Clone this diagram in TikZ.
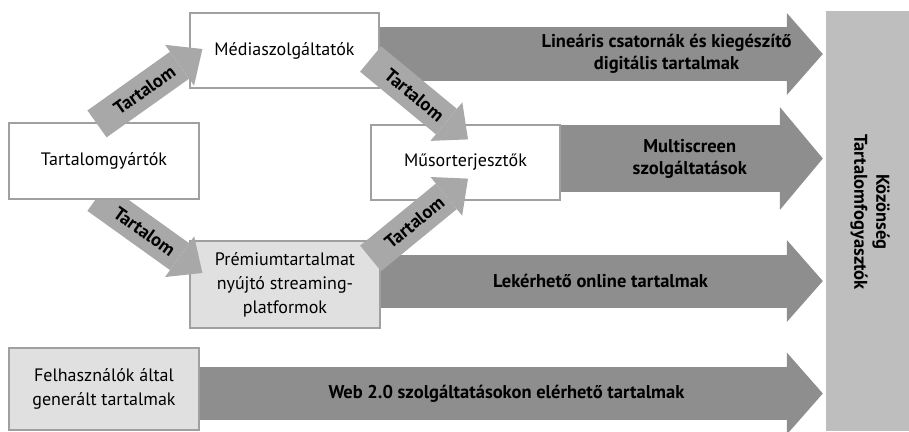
\documentclass[tikz,border=0pt]{standalone}
\usepackage{fontspec}
\setmainfont{PT Sans}
\usepackage{tikz}
\usetikzlibrary{arrows.meta,positioning,calc}
\usepackage{xcolor}
\definecolor{boxline}{RGB}{160,160,160}
\definecolor{boxfill}{RGB}{224,224,224}
\definecolor{flowgray}{RGB}{142,142,142}
\definecolor{feedgray}{RGB}{168,168,168}
\definecolor{audgray}{RGB}{190,190,190}

\begin{document}
\begin{tikzpicture}[x=1pt, y=-1pt,
  box/.style={draw=boxline, line width=1.2pt, fill=white, align=center,
              font=\fontsize{18}{24}\selectfont, inner sep=2pt},
  gbox/.style={box, fill=boxfill},
  flow/.style={draw=flowgray, line width=54pt, shorten >=3pt,
               -{Triangle[length=36pt, width=82pt, line width=0pt]}},
  feed/.style={draw=feedgray, line width=33pt,
               -{Triangle[length=28pt, width=50pt, line width=0pt]}},
  flowlab/.style={font=\bfseries\fontsize{18.5}{22}\selectfont, align=center},
  feedlab/.style={font=\bfseries\fontsize{18.5}{18.5}\selectfont, sloped, pos=0.45, inner sep=0pt}]
\useasboundingbox (0,0) rectangle (909,431);
% audience bar (right)
\node[draw=none, fill=audgray, minimum width=83pt, minimum height=420pt, inner sep=0pt] (aud) at (867.5,221) {};
\node[flowlab, rotate=-90] (audlab) at (870,212) {Közönség\\Tartalomfogyasztók};
% platforms and the lower feed (drawn before the producer box)
\node[gbox, minimum width=190pt, minimum height=87pt] (prem) at (285,284.5) {Prémiumtartalmat\\nyújtó streaming-\\platformok};
\coordinate (feedB) at (97,197.5);
\draw[feed] (feedB) -- ([xshift=13pt, yshift=11.5pt]prem.west) node[feedlab] {Tartalom};
% producers, broadcasters, distributors, user content
\node[box, minimum width=190pt, minimum height=76pt] (prod) at (104,161) {Tartalomgyártók};
\node[box, minimum width=189pt, minimum height=75pt] (media) at (284.5,50.5) {Médiaszolgáltatók};
\node[box, minimum width=189pt, minimum height=75pt] (dist) at (465.5,162.5) {Műsorterjesztők};
\node[gbox, minimum width=190pt, minimum height=82pt] (ugc) at (104,389) {Felhasználók által\\generált tartalmak};
% flows to the audience
\draw[flow] ([yshift=-3.5pt]media.east) -- ([yshift=-3.5pt]media.east -| aud.west)
  node[flowlab, pos=0.643] {Lineáris csatornák és kiegészítő\\digitális tartalmak};
\draw[flow, line width=67pt, -{Triangle[length=43pt, width=103pt, line width=0pt]}]
  ([yshift=4pt]dist.east) -- ([yshift=4pt]dist.east -| aud.west)
  node[flowlab, pos=0.487] {Multiscreen\\szolgáltatások};
\draw[flow, line width=53pt] ([yshift=3.5pt]prem.east) -- ([yshift=3.5pt]prem.east -| aud.west)
  node[flowlab, pos=0.494] {Lekérhető online tartalmak};
\draw[flow, line width=53pt] ([yshift=-4.5pt]ugc.east) -- ([yshift=-4.5pt]ugc.east -| aud.west)
  node[flowlab, pos=0.49] {Web 2.0 szolgáltatásokon elérhető tartalmak};
% content feeds
\draw[feed] ([xshift=-7pt, yshift=-1.5pt]prod.north) -- ([xshift=13pt, yshift=1.5pt]media.west) node[feedlab] {Tartalom};
\draw[feed] ([xshift=-9pt, yshift=-8.5pt]media.east) -- ([xshift=2.5pt, yshift=-15pt]dist.north) node[feedlab] {Tartalom};
\draw[feed] ([xshift=-10pt, yshift=-18pt]prem.north east) -- ([xshift=2.5pt, yshift=22pt]dist.south) node[feedlab] {Tartalom};
\end{tikzpicture}
\end{document}
